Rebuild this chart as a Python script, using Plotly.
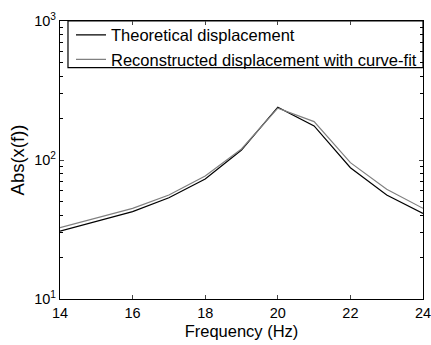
import plotly.graph_objects as go

freq = [14, 15, 16, 17, 18, 19, 20, 21, 22, 23, 24]
theoretical = [30.8, 36.3, 42.5, 53.5, 73, 118, 240, 176, 88, 56, 41.3]
reconstructed = [32.6, 38.3, 44.9, 56, 76.7, 120, 236, 189, 95.7, 61.5, 44.9]

y_ticks = [10, 100, 1000]
y_ticktext = ["10<sup>1</sup>", "10<sup>2</sup>", "10<sup>3</sup>"]
x_ticks = [14, 16, 18, 20, 22, 24]
minor_vals = [m * d for d in (10, 100) for m in range(2, 10)]

fam = "Liberation Sans, Arial, sans-serif"
fig = go.Figure()
fig.add_trace(go.Scatter(x=freq, y=theoretical, mode="lines",
                         name="Theoretical displacement",
                         line=dict(color="#000000", width=1.2)))
fig.add_trace(go.Scatter(x=freq, y=reconstructed, mode="lines",
                         name="Reconstructed displacement with curve-fit",
                         line=dict(color="#808080", width=1.2)))

# legend frame
fig.add_shape(type="rect", xref="paper", yref="paper",
              x0=0.022, x1=1.0, y0=0.832, y1=1.0,
              line=dict(color="#000", width=1.2), fillcolor="white", layer="below")

font = dict(family=fam, size=14, color="#000")
fig.update_layout(
    width=431, height=345,
    margin=dict(l=60, r=8, t=21, b=46, autoexpand=False),
    paper_bgcolor="white", plot_bgcolor="white",
    font=font,
    showlegend=True,
    legend=dict(x=0.0303, y=1.012, xanchor="left", yanchor="top",
                bgcolor="rgba(0,0,0,0)", borderwidth=0,
                font=dict(family=fam, size=16.5, color="#000"),
                tracegroupgap=0),
    xaxis=dict(range=[14, 24], tickvals=x_ticks, ticks="inside", ticklen=4,
               showline=True, linecolor="#000", linewidth=1.3, mirror="allticks",
               showgrid=False, zeroline=False, automargin=False,
               ticklabeloverflow="allow",
               title=dict(text="Frequency (Hz)", standoff=5, font=dict(family=fam, size=16.5)),
               tickfont=dict(family=fam, size=14.5)),
    yaxis=dict(type="log", range=[1, 3], tickvals=y_ticks, ticktext=y_ticktext,
               ticks="inside", ticklen=4,
               showline=True, linecolor="#000", linewidth=1.3, mirror="allticks",
               showgrid=False, zeroline=False, automargin=False,
               ticklabeloverflow="allow",
               minor=dict(tickvals=minor_vals, ticks="inside", ticklen=3, tickcolor="#000", showgrid=False),
               title=dict(text="Abs(x(f))", standoff=4, font=dict(family=fam, size=18.5)),
               tickfont=dict(family=fam, size=14.5)),
)
fig.write_html("out.html")
